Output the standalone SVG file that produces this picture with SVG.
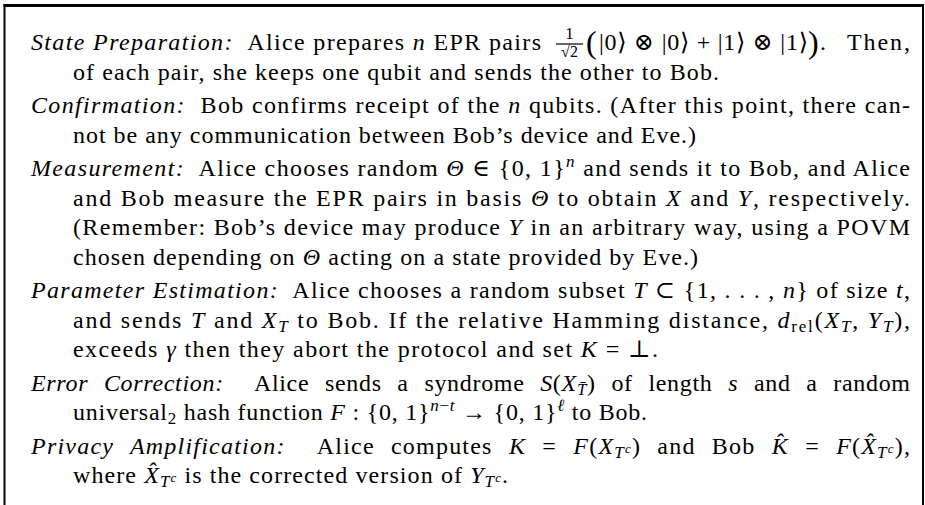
<svg xmlns="http://www.w3.org/2000/svg" width="925" height="505" viewBox="0 0 925 505">
<style>
text{font-family:"Liberation Serif","DejaVu Serif",serif;font-size:24px;fill:#000}
.i{font-style:italic}
.s{font-size:17px}
.ss{font-size:13px}
.big{font-size:32px}
.ws{word-spacing:9px}
.rule{stroke:#000;fill:none}
</style>
<rect width="925" height="505" fill="#fff"/>
<g id="frame" class="rule">
<line x1="3.5" y1="5.5" x2="924" y2="5.5" stroke-width="3"/>
<line x1="4.5" y1="4" x2="4.5" y2="505" stroke-width="2"/>
<line x1="923" y1="4" x2="923" y2="505" stroke-width="2"/>
</g>
<g id="state-preparation">
<text xml:space="preserve" x="31" y="50" textLength="510"><tspan class="i">State Preparation:</tspan>  Alice prepares <tspan class="i">n</tspan> EPR pairs</text>
<line class="rule" x1="556" y1="44" x2="583" y2="44" stroke-width="1.2"/>
<text class="s" x="569.5" y="39" text-anchor="middle">1</text>
<text x="569.5" y="57" text-anchor="middle" style="font-size:16px">√2</text>
<text class="big" x="586" y="53">(</text>
<text xml:space="preserve" x="599" y="50" textLength="209">|0⟩ ⊗ |0⟩ + |1⟩ ⊗ |1⟩</text>
<text class="big" x="808" y="53">)</text>
<text x="820" y="50">.</text>
<text x="847" y="50" textLength="63">Then,</text>
<text xml:space="preserve" x="73" y="79.5" textLength="646">of each pair, she keeps one qubit and sends the other to Bob.</text>
</g>
<g id="confirmation">
<text xml:space="preserve" x="31" y="113" textLength="879"><tspan class="i">Confirmation:</tspan>  Bob confirms receipt of the <tspan class="i">n</tspan> qubits. (After this point, there can-</text>
<text xml:space="preserve" x="73" y="142.5" textLength="623">not be any communication between Bob’s device and Eve.)</text>
</g>
<g id="measurement">
<text xml:space="preserve" x="31" y="176" textLength="879"><tspan class="i">Measurement:</tspan>  Alice chooses random <tspan class="i">Θ</tspan> ∈ {0, 1}<tspan class="i s" dy="-9">n</tspan><tspan dy="9"> and sends it to Bob, and Alice</tspan></text>
<text xml:space="preserve" x="73" y="205.5" textLength="837">and Bob measure the EPR pairs in basis <tspan class="i">Θ</tspan> to obtain <tspan class="i">X</tspan> and <tspan class="i">Y</tspan>, respectively.</text>
<text xml:space="preserve" x="73" y="235" textLength="837">(Remember: Bob’s device may produce <tspan class="i">Y</tspan> in an arbitrary way, using a POVM</text>
<text xml:space="preserve" x="73" y="264.5" textLength="625">chosen depending on <tspan class="i">Θ</tspan> acting on a state provided by Eve.)</text>
</g>
<g id="parameter-estimation">
<text xml:space="preserve" x="31" y="298" textLength="879"><tspan class="i">Parameter Estimation:</tspan>  Alice chooses a random subset <tspan class="i">T</tspan> ⊂ {1, . . . , <tspan class="i">n</tspan>} of size <tspan class="i">t</tspan>,</text>
<text xml:space="preserve" x="73" y="327.5" textLength="837">and sends <tspan class="i">T</tspan> and <tspan class="i">X</tspan><tspan class="i s" dy="4">T</tspan><tspan dy="-4"> to Bob. If the relative Hamming distance, </tspan><tspan class="i">d</tspan><tspan class="s" dy="4">rel</tspan><tspan dy="-4">(</tspan><tspan class="i">X</tspan><tspan class="i s" dy="4">T</tspan><tspan dy="-4">, </tspan><tspan class="i">Y</tspan><tspan class="i s" dy="4">T</tspan><tspan dy="-4">),</tspan></text>
<text xml:space="preserve" x="73" y="357" textLength="585">exceeds <tspan class="i">γ</tspan> then they abort the protocol and set <tspan class="i">K</tspan> = ⊥.</text>
</g>
<g id="error-correction">
<text xml:space="preserve" class="ws" x="31" y="390.5" textLength="879"><tspan class="i">Error Correction:</tspan>  Alice sends a syndrome <tspan class="i">S</tspan>(<tspan class="i">X</tspan><tspan class="i s" dy="4">T̄</tspan><tspan dy="-4">) of length </tspan><tspan class="i">s</tspan> and a random</text>
<text xml:space="preserve" x="73" y="420" textLength="574">universal<tspan class="s" dy="4">2</tspan><tspan dy="-4"> hash function </tspan><tspan class="i">F</tspan> : {0, 1}<tspan class="s" dy="-9"><tspan class="i">n</tspan>−<tspan class="i">t</tspan></tspan><tspan dy="9"> → {0, 1}</tspan><tspan class="i s" dy="-9">ℓ</tspan><tspan dy="9"> to Bob.</tspan></text>
</g>
<g id="privacy-amplification">
<text xml:space="preserve" class="ws" x="31" y="453.5" textLength="879"><tspan class="i">Privacy Amplification:</tspan>  Alice computes <tspan class="i">K</tspan> = <tspan class="i">F</tspan>(<tspan class="i">X</tspan><tspan class="i s" dy="4">T</tspan><tspan class="i ss" dy="-5">c</tspan><tspan dy="1">) and Bob </tspan><tspan class="i">K̂</tspan> = <tspan class="i">F</tspan>(<tspan class="i">X̂</tspan><tspan class="i s" dy="4">T</tspan><tspan class="i ss" dy="-5">c</tspan><tspan dy="1">),</tspan></text>
<text xml:space="preserve" x="73" y="483" textLength="435">where <tspan class="i">X̂</tspan><tspan class="i s" dy="4">T</tspan><tspan class="i ss" dy="-5">c</tspan><tspan dy="1"> is the corrected version of </tspan><tspan class="i">Y</tspan><tspan class="i s" dy="4">T</tspan><tspan class="i ss" dy="-5">c</tspan><tspan dy="1">.</tspan></text>
</g>
</svg>
